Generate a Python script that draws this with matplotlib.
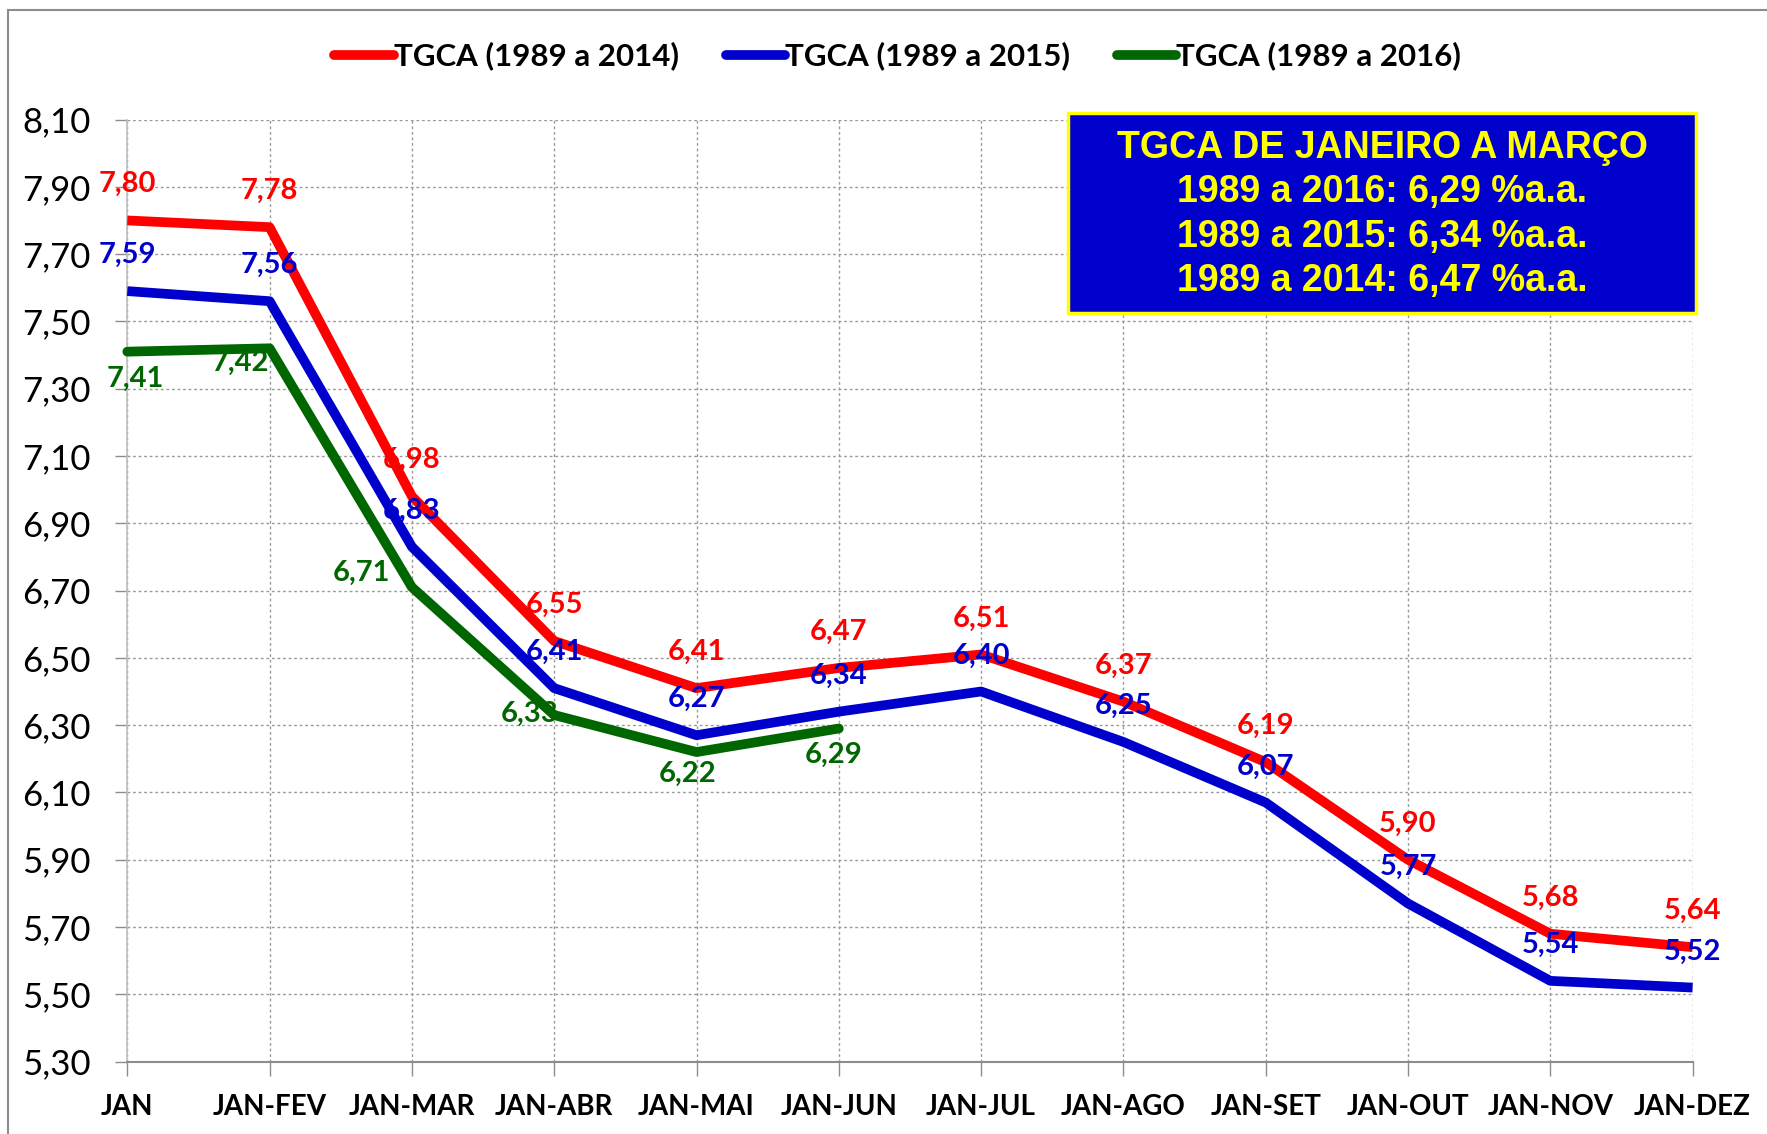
import matplotlib
matplotlib.use("Agg")
import matplotlib.pyplot as plt
from matplotlib.patches import Rectangle
from matplotlib.lines import Line2D

categories = ["JAN", "JAN-FEV", "JAN-MAR", "JAN-ABR", "JAN-MAI", "JAN-JUN",
              "JAN-JUL", "JAN-AGO", "JAN-SET", "JAN-OUT", "JAN-NOV", "JAN-DEZ"]
tgca_2014 = [7.80, 7.78, 6.98, 6.55, 6.41, 6.47, 6.51, 6.37, 6.19, 5.90, 5.68, 5.64]
tgca_2015 = [7.59, 7.56, 6.83, 6.41, 6.27, 6.34, 6.40, 6.25, 6.07, 5.77, 5.54, 5.52]
tgca_2016 = [7.41, 7.42, 6.71, 6.33, 6.22, 6.29]
series_names = ["TGCA (1989 a 2014)", "TGCA (1989 a 2015)", "TGCA (1989 a 2016)"]
yticks = [5.30, 5.50, 5.70, 5.90, 6.10, 6.30, 6.50, 6.70, 6.90, 7.10, 7.30, 7.50, 7.70, 7.90, 8.10]
box_lines = ["TGCA DE JANEIRO A MARÇO",
             "1989 a 2016: 6,29 %a.a.",
             "1989 a 2015: 6,34 %a.a.",
             "1989 a 2014: 6,47 %a.a."]

RED = "#FF0000"
BLUE = "#0000CC"
GREEN = "#006600"
FONT = ["Lato", "DejaVu Sans"]
plt.rcParams["font.family"] = FONT

W, H = 1767, 1134
fig = plt.figure(figsize=(W / 100, H / 100), dpi=100)

# outer border (top & left visible)
fig.add_artist(Rectangle((8 / W, -0.05), 1.1, 1 - 10 / H + 0.05, transform=fig.transFigure,
                         fill=False, edgecolor="#8C8C8C", linewidth=1.5))

x0, x1 = 127.3, 1692.6
ytop, ybot = 119.5, 1061.6
ax = fig.add_axes([x0 / W, 1 - ybot / H, (x1 - x0) / W, (ybot - ytop) / H])
ax.set_xlim(0, len(categories) - 1)
ax.set_ylim(5.30, 8.10)

xs = list(range(len(categories)))
lw = 7
ax.plot(xs, tgca_2014, color=RED, lw=lw, solid_joinstyle="round", solid_capstyle="butt",
        clip_on=False, zorder=3)
ax.plot(xs, tgca_2015, color=BLUE, lw=lw, solid_joinstyle="round", solid_capstyle="butt",
        clip_on=False, zorder=3)
ax.plot(xs[:len(tgca_2016)], tgca_2016, color=GREEN, lw=lw, solid_joinstyle="round",
        solid_capstyle="round", clip_on=False, zorder=3)

def fmt(v):
    return f"{v:.2f}".replace(".", ",")

lab_fs = 21
for i, v in enumerate(tgca_2014):
    ax.annotate(fmt(v), (i, v), xytext=(0, 26), textcoords="offset points",
                ha="center", va="center", color=RED, fontsize=lab_fs, fontweight="bold",
                zorder=4, annotation_clip=False)
for i, v in enumerate(tgca_2015):
    ax.annotate(fmt(v), (i, v), xytext=(0, 26), textcoords="offset points",
                ha="center", va="center", color=BLUE, fontsize=lab_fs, fontweight="bold",
                zorder=4, annotation_clip=False)
green_offsets = [(6, -19.5), (-21, -10.5), (-36, 10.5), (-18, 1), (-6.5, -15.4), (-4, -18.7)]
for i, v in enumerate(tgca_2016):
    ax.annotate(fmt(v), (i, v), xytext=green_offsets[i], textcoords="offset points",
                ha="center", va="center", color=GREEN, fontsize=lab_fs, fontweight="bold",
                zorder=4, annotation_clip=False)

# grid
ax.set_yticks(yticks)
ax.set_yticklabels([fmt(v) for v in yticks], fontsize=25)
ax.set_xticks(xs)
ax.set_xticklabels(categories, fontsize=20, fontweight="bold")
ax.grid(True, color="#9A9A9A", linestyle=(0, (2, 2)), linewidth=1.0, zorder=0)
ax.set_axisbelow(True)
for s in ["top", "right"]:
    ax.spines[s].set_visible(False)
ax.spines["left"].set_color("#BFBFBF")
ax.spines["left"].set_linewidth(1.2)
ax.spines["bottom"].set_color("#8C8C8C")
ax.spines["bottom"].set_linewidth(1.5)
ax.tick_params(axis="y", length=8.5, color="#8C8C8C", width=1, pad=18)
ax.tick_params(axis="x", length=10, color="#8C8C8C", width=1, pad=13)

# legend
handles = [Line2D([], [], color=c, lw=7, solid_capstyle="round") for c in (RED, BLUE, GREEN)]
fig.legend(handles, series_names, loc="center", bbox_to_anchor=(0.508, 1 - 56 / H), ncol=3,
           frameon=False, prop={"weight": "bold", "size": 22.5}, handlelength=1.9,
           handletextpad=0.0, columnspacing=1.5)

# info box
bx0, bx1 = 1068, 1696
by0, by1 = 113, 313
fig.add_artist(Rectangle((bx0 / W, 1 - by1 / H), (bx1 - bx0) / W, (by1 - by0) / H,
                         transform=fig.transFigure, facecolor="#0000CC",
                         edgecolor="#FFFF00", linewidth=2.5, zorder=5))
fig.text((bx0 + bx1) / 2 / W, 1 - (by0 + by1 + 3) / 2 / H, "\n".join(box_lines),
         ha="center", va="center", color="#FFFF00", fontsize=27, fontweight="bold",
         family=["Liberation Sans", "DejaVu Sans"], linespacing=1.3, zorder=6)

fig.savefig("out.png", dpi=100)
